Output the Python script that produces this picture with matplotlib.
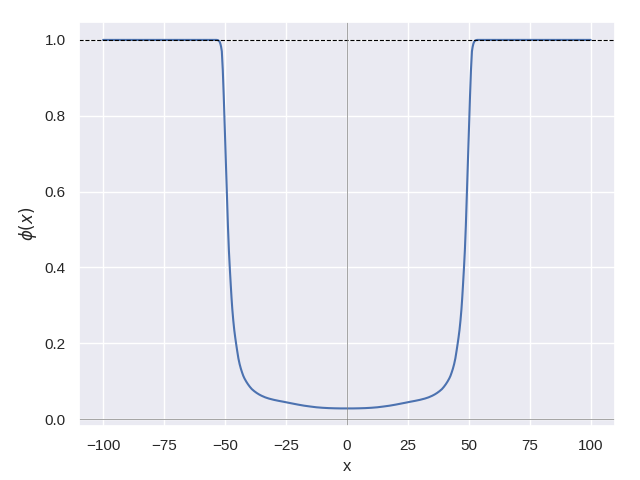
import matplotlib
matplotlib.use("Agg")
import matplotlib.pyplot as plt
import seaborn as sns

sns.set_theme()
plt.rcParams["font.family"] = ["Liberation Sans", "DejaVu Sans"]

x_vals = [-100, -90, -80, -70, -60, -55, -53.5, -53.0, -52.6, -52.2, -51.9, -51.6, -51.3,
          -50.9, -50.5, -50.1, -49.6, -49.2, -48.8, -48.4, -48.0, -47.6, -47.3, -47.0,
          -46.6, -46.2, -45.8, -45.4, -45.0, -44.5, -44.0, -43.5, -43.0, -42.5, -42.0,
          -41.3, -40.6, -39.8, -39.0, -38.0, -37.0, -36.0, -35.0, -33.5, -32.0, -30.0,
          -28.0, -26.0, -24.0, -22.0, -20.0, -17.5, -15.0, -12.5, -10.0, -7.5, -5.0,
          -2.5, 0.0,
          2.5, 5.0, 7.5, 10.0, 12.5, 15.0, 17.5, 20.0, 22.0, 24.0, 26.0, 28.0, 30.0,
          32.0, 33.5, 35.0, 36.0, 37.0, 38.0, 39.0, 39.8, 40.6, 41.3, 42.0, 42.5, 43.0,
          43.5, 44.0, 44.5, 45.0, 45.4, 45.8, 46.2, 46.6, 47.0, 47.3, 47.6, 48.0, 48.4,
          48.8, 49.2, 49.6, 50.1, 50.5, 50.9, 51.3, 51.6, 51.9, 52.2, 52.6, 53.0, 53.5,
          55, 60, 70, 80, 90, 100]
phi_vals = [1.0, 1.0, 1.0, 1.0, 1.0, 1.0, 1.0, 0.9995, 0.998, 0.995, 0.99, 0.982, 0.97,
            0.92, 0.85, 0.77, 0.67, 0.59, 0.51, 0.445, 0.395, 0.35, 0.318, 0.29,
            0.26, 0.235, 0.215, 0.197, 0.18, 0.16, 0.145, 0.133, 0.123, 0.114, 0.107,
            0.099, 0.092, 0.085, 0.079, 0.0735, 0.0688, 0.0648, 0.0614, 0.0572, 0.054, 0.0507,
            0.048, 0.0456, 0.043, 0.0405, 0.038, 0.0352, 0.033, 0.031, 0.0297, 0.0288, 0.0283,
            0.028, 0.028,
            0.028, 0.0283, 0.0288, 0.0297, 0.031, 0.033, 0.0352, 0.038, 0.0405, 0.043, 0.0456,
            0.048, 0.0507, 0.054, 0.0572, 0.0614, 0.0648, 0.0688, 0.0735, 0.079, 0.085, 0.092,
            0.099, 0.107, 0.114, 0.123, 0.133, 0.145, 0.16, 0.18, 0.197, 0.215, 0.235, 0.26,
            0.29, 0.318, 0.35, 0.395, 0.445, 0.51, 0.59, 0.67, 0.77, 0.85, 0.92, 0.97, 0.982,
            0.99, 0.995, 0.998, 0.9995, 1.0, 1.0, 1.0, 1.0, 1.0, 1.0, 1.0]

fig, ax = plt.subplots(figsize=(6.4, 4.8), dpi=100)
ax.plot(x_vals, phi_vals, color="#4C72B0", lw=1.5)
ax.axhline(1.0, color="black", ls="--", lw=0.8)
ax.axhline(0.0, color="gray", lw=0.5)
ax.axvline(0.0, color="gray", lw=0.5)
ax.set_xlim(-110, 110)
ax.set_ylim(-0.019, 1.047)
ax.set_xlabel("x")
ax.set_ylabel(r"$\phi(x)$")
fig.subplots_adjust(left=0.123, right=0.961, bottom=0.112, top=0.954)
fig.savefig("out.png", dpi=100)
